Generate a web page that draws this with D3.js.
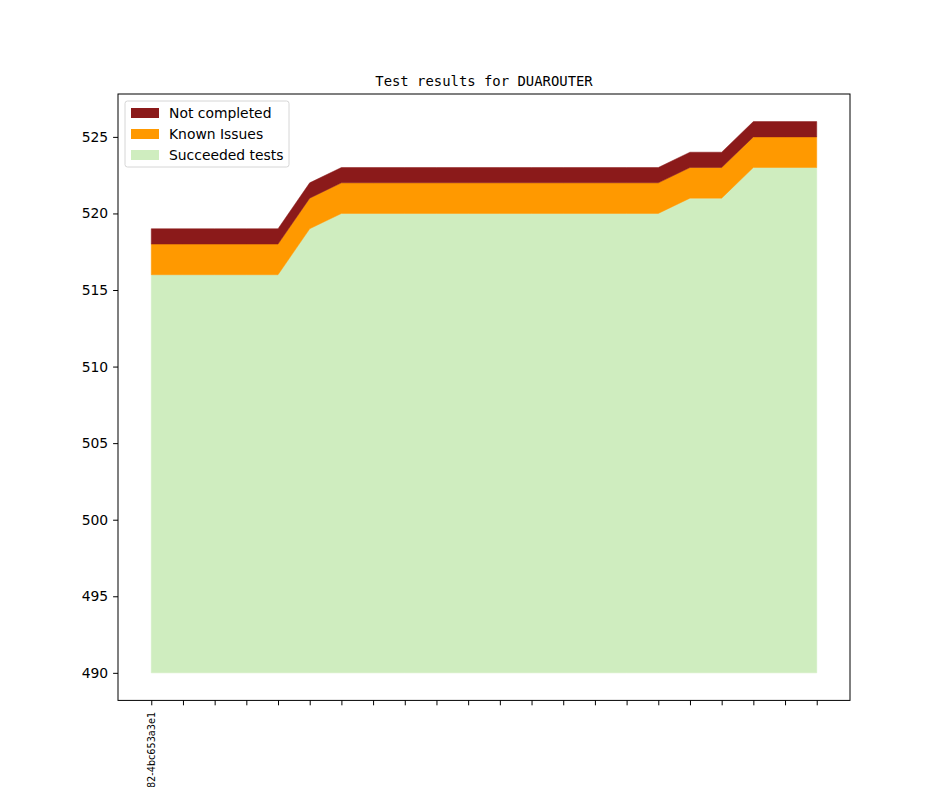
<!DOCTYPE html>
<html>
<head>
<meta charset="utf-8">
<script src="https://cdn.jsdelivr.net/npm/d3@7"></script>
<style>
body{margin:0;background:#fff;}
svg{display:block;}
</style>
</head>
<body>
<svg id="chart" width="944" height="787" font-family="DejaVu Sans, sans-serif"></svg>
<script>
// Data
const xIndex = [0,1,2,3,4,5,6,7,8,9,10,11,12,13,14,15,16,17,18,19,20,21];
const xTickLabels = ["82-4bc653a3e1","","","","","","","","","","","","","","","","","","","","",""];
const succeeded = [516,516,516,516,516,519,520,520,520,520,520,520,520,520,520,520,520,521,521,523,523,523];
const knownIssues = [2,2,2,2,2,2,2,2,2,2,2,2,2,2,2,2,2,2,2,2,2,2];
const notCompleted = [1,1,1,1,1,1,1,1,1,1,1,1,1,1,1,1,1,1,1,1,1,1];
const baseValue = 490;
const yTicks = [490,495,500,505,510,515,520,525];
const seriesNames = ["Succeeded tests","Known Issues","Not completed"];
const seriesColors = ["#cfedbf","#ff9900","#8b1a1a"];
const title = "Test results for DUAROUTER";

const svg = d3.select("#chart");
const mLeft = 118, mRight = 850, mTop = 94, mBottom = 700.4;

const x = d3.scaleLinear().domain([-1.05, 22.05]).range([mLeft, mRight]);
const y = d3.scaleLinear().domain([488.2, 527.8]).range([mBottom, mTop]);

// stacks
const rows = xIndex.map((i) => ({i, s: succeeded[i] - baseValue, k: knownIssues[i], n: notCompleted[i]}));
const stacked = d3.stack().keys(["s","k","n"])(rows);

const area = d3.area()
  .x(d => x(d.data.i))
  .y0(d => y(d[0] + baseValue))
  .y1(d => y(d[1] + baseValue));

stacked.forEach((layer, li) => {
  svg.append("path")
    .attr("d", area(layer))
    .attr("fill", seriesColors[li])
    .attr("stroke", seriesColors[li])
    .attr("stroke-width", 0.5);
});

// axes frame
svg.append("rect").attr("x", mLeft).attr("y", mTop).attr("width", mRight-mLeft).attr("height", mBottom-mTop)
  .attr("fill", "none").attr("stroke", "#000").attr("stroke-width", 1);

// y axis
const yAxis = d3.axisLeft(y).tickValues(yTicks).tickSize(4.9).tickPadding(4.9).tickFormat(d3.format("d"));
const gy = svg.append("g").attr("transform", `translate(${mLeft},0)`).call(yAxis);
gy.select(".domain").remove();
gy.attr("font-family", null).attr("font-size", null);
gy.selectAll("text").style("font-size", "13.9px").style("font-family", "DejaVu Sans").attr("fill", "#000");
gy.selectAll("line").attr("stroke", "#000");

// x axis
const xAxis = d3.axisBottom(x).tickValues(xIndex).tickSize(4.9).tickFormat("");
const gx = svg.append("g").attr("transform", `translate(0,${mBottom})`).call(xAxis);
gx.select(".domain").remove();
gx.selectAll("line").attr("stroke", "#000");

// x tick labels rotated
xIndex.forEach((i) => {
  if (!xTickLabels[i]) return;
  svg.append("text")
    .attr("transform", `translate(${x(i)},${mBottom + 11.5}) rotate(-90)`)
    .attr("text-anchor", "end")
    .attr("dy", "0.35em")
    .style("font-family", "DejaVu Sans")
    .style("font-size", "9.7px")
    .attr("fill", "#000")
    .text(xTickLabels[i]);
});

// title
svg.append("text")
  .attr("x", (mLeft + mRight) / 2)
  .attr("y", mTop - 8.5)
  .attr("text-anchor", "middle")
  .style("font-family", "'DejaVu Sans Mono', monospace")
  .style("font-size", "13.9px")
  .attr("fill", "#000")
  .text(title);

// legend
const lg = svg.append("g").attr("transform", `translate(125,101)`);
lg.append("rect").attr("x", 0).attr("y", 0).attr("width", 164).attr("height", 66).attr("rx", 2.5)
  .attr("fill", "#fff").attr("fill-opacity", 0.8).attr("stroke", "#d6d6d6").attr("stroke-width", 1);
const legendOrder = [2,1,0];
legendOrder.forEach((si, j) => {
  const cy = 12 + j * 21;
  lg.append("rect").attr("x", 6).attr("y", cy - 5).attr("width", 28).attr("height", 10)
    .attr("fill", seriesColors[si]);
  lg.append("text").attr("x", 44).attr("y", cy).attr("dy", "0.36em")
    .style("font-family", "DejaVu Sans")
    .style("font-size", "13.9px").attr("fill", "#000").text(seriesNames[si]);
});
</script>
</body>
</html>
